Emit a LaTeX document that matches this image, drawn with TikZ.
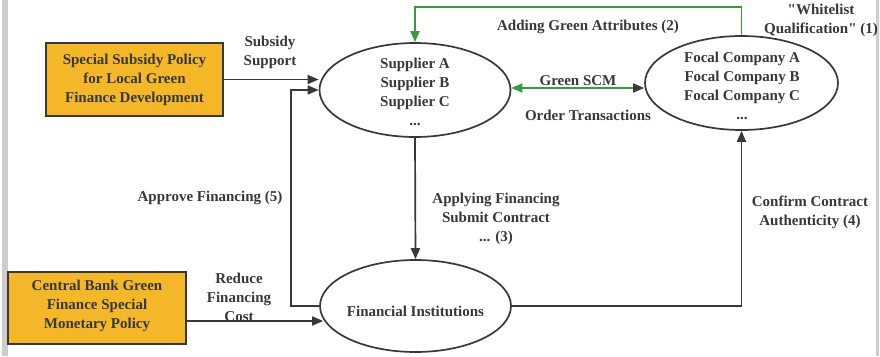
\documentclass[tikz,border=0pt]{standalone}
\usepackage{fontspec}
\setmainfont{Liberation Serif}
% same face without the TeX input mapping, for straight double quotes
\newfontfamily\quotefont{Liberation Serif}
\newcommand\dq{{\quotefont\bfseries"}}
\usetikzlibrary{arrows.meta,shapes.geometric}
\definecolor{ink}{HTML}{383838}
\definecolor{amber}{HTML}{F4B72A}
\definecolor{scm}{HTML}{3A9A3E}
\definecolor{rule}{HTML}{CDCDCD}
\tikzset{
  txt/.style={font=\fontsize{15}{19}\selectfont\bfseries, text=ink, align=center, inner sep=0},
  policy/.style={draw=ink, line width=1.7pt, fill=amber, inner sep=0},
  oval/.style={ellipse, draw=ink, line width=1.7pt, inner sep=0},
  arr/.style={draw=ink, line width=1.7pt, -{Triangle[length=11pt,width=9pt]}},
  garr/.style={draw=scm, line width=1.7pt, -{Triangle[length=11pt,width=9pt]}},
}
\begin{document}
\begin{tikzpicture}[x=1pt,y=-1pt]
\useasboundingbox (0,0) rectangle (880,356);
\fill[white] (0,0) rectangle (880,356);
% page edges
\fill[rule] (2,0) rectangle (7.5,356);
\fill[rule] (876,0) rectangle (878.5,356);

% policy boxes
\node[policy, minimum width=177, minimum height=73] (sub) at (134.5,79.5) {};
\node[txt] at (sub.center) {Special Subsidy Policy\\for Local Green\\Finance Development};
\node[policy, minimum width=178, minimum height=72] (cb) at (97,308) {};
\node[txt] at ([yshift=2]cb.center) {Central Bank Green\\Finance Special\\Monetary Policy};

% actors
\node[oval, minimum width=191, minimum height=94] (sup) at (415,90) {};
\node[txt] at (415,92) {Supplier A\\Supplier B\\Supplier C\\...};
\node[oval, minimum width=193, minimum height=94] (foc) at (741.5,83) {};
\node[txt] at (742,86) {Focal Company A\\Focal Company B\\Focal Company C\\...};
\node[oval, minimum width=191, minimum height=92] (fin) at (415.5,306) {};
\node[txt] at (415.5,311) {Financial Institutions};

% connectors
\coordinate (rc) at (186,321);
\coordinate (gs) at (578,88);
\draw[arr] (sub.east) -- (sub.east -| sup.west);
\draw[arr] (fin.west) -- ++(-28,0) |- (sup.west);
\draw[arr] (rc) -- ([xshift=4]fin.west |- rc);
\draw[arr] (sup.south) -- (fin.north);
\draw[arr] (fin.east) -| (foc.south);
\draw[garr] (foc.north) -- ++(0,-28) -| (sup.north);
\draw[draw=scm, line width=1.7pt, {Triangle[length=11pt,width=9pt,color=scm]}-{Triangle[length=11pt,width=9pt,color=ink]}]
  (sup.east |- gs) -- (foc.west |- gs);

% labels
\node[txt] (l1) at (270,52) {Subsidy\\Support};
\node[txt] (l2) at (210,198) {Approve Financing (5)};
\node[txt] (l3) at (239,297) {Reduce\\Financing\\Cost};
\node[txt] (l4) at (496,219) {Applying Financing\\Submit Contract\\... (3)};
\node[txt] (l5) at (810,212) {Confirm Contract\\Authenticity (4)};
\node[txt] (l6) at (578,81) {Green SCM};
\node[txt] (l7) at (588,115) {Order Transactions};
\node[txt] (l8) at (588,27) {Adding Green Attributes (2)};
\node[txt] (l9) at (821,20) {\dq Whitelist\\Qualification\dq\ (1)};
\end{tikzpicture}
\end{document}
